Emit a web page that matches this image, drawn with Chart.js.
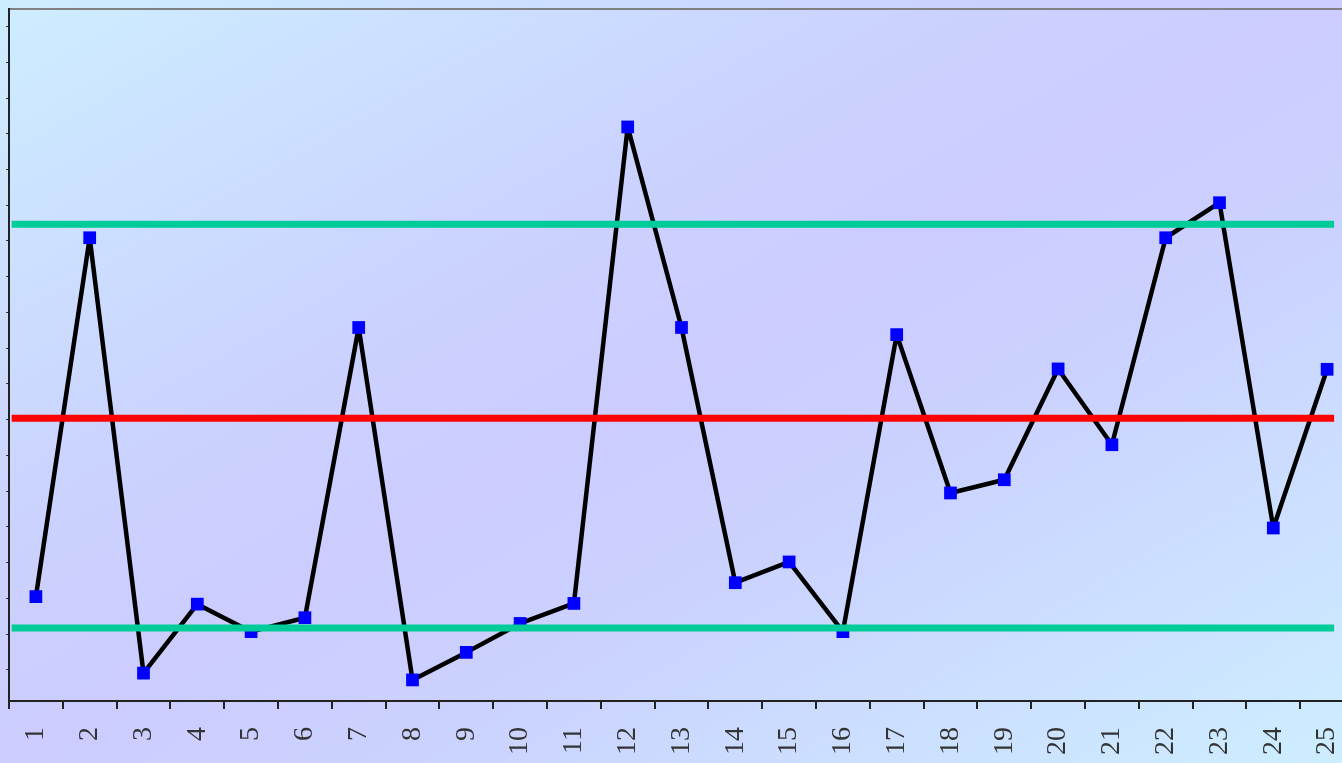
<!DOCTYPE html>
<html>
<head>
<meta charset="utf-8">
<script src="https://cdn.jsdelivr.net/npm/chart.js@4.4.1/dist/chart.umd.min.js"></script>
<style>
  html, body { margin: 0; padding: 0; overflow: hidden; width: 1342px; height: 763px; }
  body { background: linear-gradient(to bottom right, #cdeeff 0%, #cbd2ff 35%, #ccccff 50%, #cbd2ff 65%, #cdeeff 100%); }
  canvas { display: block; }
</style>
</head>
<body>
<canvas id="c" width="1363" height="763"></canvas>
<script>
// Categories (sample numbers)
const categories = ['1','2','3','4','5','6','7','8','9','10','11','12','13','14','15','16','17','18','19','20','21','22','23','24','25'];
// Measured values
const values = [2.05, 12.09, -0.09, 1.84, 1.07, 1.46, 9.58, -0.28, 0.49, 1.30, 1.86, 15.19, 9.58, 2.44, 3.02, 1.07, 9.38, 4.95, 5.32, 8.42, 6.30, 12.09, 13.07, 3.97, 8.41];
// Control limits
const centerLine = [7.04, 7.04];
const upperLimit = [12.47, 12.47];
const lowerLimit = [1.17, 1.17];
const limitSpan = [0.55, 25.13];
// Y scale range and tick values
const yRange = [-0.87, 18.49];
const yTicks = [0,1,2,3,4,5,6,7,8,9,10,11,12,13,14,15,16,17,18];

const toPts = arr => limitSpan.map((x, i) => ({ x: x, y: arr[i] }));

new Chart(document.getElementById('c'), {
  type: 'line',
  data: {
    labels: categories,
    datasets: [
      { data: toPts(upperLimit), xAxisID: 'xl', borderColor: '#00cc99', borderWidth: 7, pointRadius: 0, order: 0 },
      { data: toPts(centerLine), xAxisID: 'xl', borderColor: '#ff0000', borderWidth: 7, pointRadius: 0, order: 0 },
      { data: toPts(lowerLimit), xAxisID: 'xl', borderColor: '#00cc99', borderWidth: 7, pointRadius: 0, order: 0 },
      {
        data: values, xAxisID: 'x', borderColor: '#000000', borderWidth: 4.5, borderJoinStyle: 'bevel',
        pointStyle: 'rect', pointRadius: 9, pointBackgroundColor: '#0000ff',
        pointBorderColor: '#0000ff', pointBorderWidth: 0, tension: 0, order: 1
      }
    ]
  },
  options: {
    responsive: false,
    devicePixelRatio: 1,
    animation: false,
    events: [],
    layout: { padding: { left: 4, right: 1, top: 7, bottom: 8 } },
    plugins: { legend: { display: false }, tooltip: { enabled: false } },
    scales: {
      x: {
        type: 'category', position: 'bottom', offset: true,
        afterFit: s => { s.height = 54; s.paddingLeft = 0; s.paddingRight = 0; },
        grid: { offset: true, drawOnChartArea: false, drawTicks: true, tickLength: 8, color: '#222', lineWidth: 2 },
        border: { display: true, color: '#222', width: 2 },
        ticks: { minRotation: 90, maxRotation: 90, padding: 18, color: '#333', autoSkip: false,
                 font: { family: '"Liberation Serif", "DejaVu Serif", serif', size: 28 } }
      },
      xt: {
        type: 'category', position: 'top', labels: categories,
        afterFit: s => { s.height = 0; s.paddingLeft = 0; s.paddingRight = 0; },
        grid: { display: false, drawTicks: false },
        border: { display: true, color: '#808080', width: 2 },
        ticks: { display: false }
      },
      xl: { type: 'linear', display: false, min: 0.5, max: 25.5 },
      y: {
        min: yRange[0], max: yRange[1],
        afterFit: s => { s.width = 3; },
        afterBuildTicks: s => { s.ticks = yTicks.map(v => ({ value: v })); },
        grid: { drawOnChartArea: false, drawTicks: true, tickLength: 3, color: '#333', lineWidth: 1 },
        border: { display: true, color: '#222', width: 2 },
        ticks: { display: false }
      }
    }
  }
});
</script>
</body>
</html>
